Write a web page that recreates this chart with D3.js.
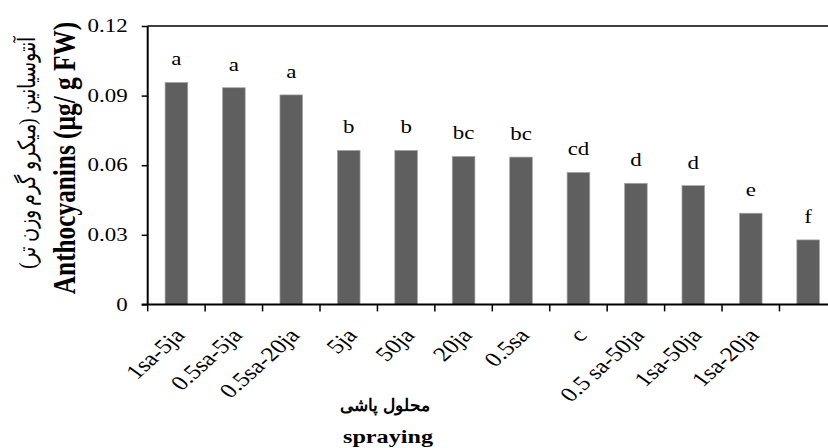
<!DOCTYPE html>
<html>
<head>
<meta charset="utf-8">
<script src="https://cdn.jsdelivr.net/npm/d3@7"></script>
<style>
  html, body { margin: 0; padding: 0; background: #fff; }
  svg { display: block; }
</style>
</head>
<body>
<svg id="chart" width="828" height="448"></svg>
<script>
// ---- data ----
const categories = ["1sa-5ja", "0.5sa-5ja", "0.5sa-20ja", "5ja", "50ja", "20ja", "0.5sa", "c", "0.5 sa-50ja", "1sa-50ja", "1sa-20ja", ""];
const values = [0.0957, 0.0934, 0.0903, 0.0664, 0.0664, 0.0638, 0.0635, 0.0569, 0.0522, 0.0512, 0.0393, 0.0278];
const letters = ["a", "a", "a", "b", "b", "bc", "bc", "cd", "d", "d", "e", "f"];
const yTicks = [0, 0.03, 0.06, 0.09, 0.12];
const yTickLabels = ["0", "0.03", "0.06", "0.09", "0.12"];
const yTitleEn = "Anthocyanins (µg/ g FW)";
const yTitleFa = "آنتوسیانین (میکرو گرم وزن تر)";
const xTitleFa = "محلول پاشی";
const xTitleEn = "spraying";

// ---- layout ----
const SX = 1.24;           // horizontal stretch of the glyphs in the reference
const serif = '"Liberation Serif", "Times New Roman", serif';
const mLeft = 147.7, mRight = 836.9, mTop = 26, mBottom = 304.4;
const idx = categories.map((d, i) => i);

const svg = d3.select("#chart");

const x = d3.scaleBand().domain(idx).range([mLeft, mRight]).paddingInner(0.605).paddingOuter(0.3025);
const y = d3.scaleLinear().domain([0, 0.12]).range([mBottom, mTop]);

// bars
svg.append("g").selectAll("rect").data(values).join("rect")
  .attr("x", (d, i) => x(i))
  .attr("width", x.bandwidth())
  .attr("y", d => y(d))
  .attr("height", d => y(0) - y(d))
  .attr("fill", "#5f5f5f")
  .attr("stroke", "#a8a8a8")
  .attr("stroke-width", 0.7);

// significance letters
svg.append("g").selectAll("text").data(values).join("text")
  .attr("transform", (d, i) => `translate(${x(i) + x.bandwidth() / 2},${y(d) - 17}) scale(${SX},1)`)
  .attr("text-anchor", "middle")
  .style("font-family", serif)
  .style("font-size", "18.5px")
  .text((d, i) => letters[i]);

// top frame line
svg.append("line")
  .attr("x1", mLeft).attr("x2", 828).attr("y1", mTop).attr("y2", mTop)
  .attr("stroke", "#000").attr("stroke-width", 1.5);

// y axis
const yAxis = d3.axisLeft(y).tickValues(yTicks).tickSize(6).tickFormat("");
const gy = svg.append("g").attr("transform", `translate(${mLeft},0)`).call(yAxis);
gy.select(".domain").attr("stroke-width", 2).attr("d", `M0,${mTop}V${mBottom}`);
gy.selectAll(".tick line").attr("stroke-width", 1.5);
svg.append("g").selectAll("text").data(yTicks).join("text")
  .attr("transform", d => `translate(${mLeft - 20},${y(d)}) scale(${SX},1)`)
  .attr("text-anchor", "end")
  .attr("dy", "0.34em")
  .style("font-family", serif)
  .style("font-size", "18.5px")
  .text((d, i) => yTickLabels[i]);

// x axis line + boundary ticks
svg.append("line")
  .attr("x1", mLeft - 6).attr("x2", 828).attr("y1", mBottom).attr("y2", mBottom)
  .attr("stroke", "#000").attr("stroke-width", 2);
svg.append("g").selectAll("line").data(idx).join("line")
  .attr("x1", i => x(i) - x.step() * x.paddingInner() / 2)
  .attr("x2", i => x(i) - x.step() * x.paddingInner() / 2)
  .attr("y1", mBottom).attr("y2", mBottom + 7)
  .attr("stroke", "#000").attr("stroke-width", 1.5);

// category labels (rotated)
svg.append("g").selectAll("text").data(idx).join("text")
  .attr("transform", i => `translate(${x(i) + x.bandwidth() / 2 + 3},${mBottom + 27}) scale(${SX},1) rotate(-48)`)
  .attr("text-anchor", "end")
  .attr("dy", "0.35em")
  .style("font-family", serif)
  .style("font-size", "20.5px")
  .text(i => categories[i]);

// x titles
svg.append("text")
  .attr("transform", `translate(385,411)`)
  .attr("text-anchor", "middle")
  .attr("direction", "rtl")
  .style("font-family", serif)
  .style("font-weight", "bold")
  .style("font-size", "16.5px")
  .text(xTitleFa);
svg.append("text")
  .attr("transform", `translate(388,443) scale(${SX},1)`)
  .attr("text-anchor", "middle")
  .style("font-family", serif)
  .style("font-weight", "bold")
  .style("font-size", "19.5px")
  .text(xTitleEn);

// y titles
svg.append("text")
  .attr("transform", `translate(65,158) scale(${SX},1) rotate(-90)`)
  .attr("text-anchor", "middle")
  .attr("dy", "0.33em")
  .style("font-family", serif)
  .style("font-weight", "bold")
  .style("font-size", "25.3px")
  .text(yTitleEn);
svg.append("text")
  .attr("transform", `translate(27,152.5) scale(${SX},1) rotate(-90)`)
  .attr("text-anchor", "middle")
  .attr("dy", "0.35em")
  .attr("direction", "rtl")
  .style("font-family", serif)
  .style("font-size", "19px")
  .text(yTitleFa);
</script>
</body>
</html>
